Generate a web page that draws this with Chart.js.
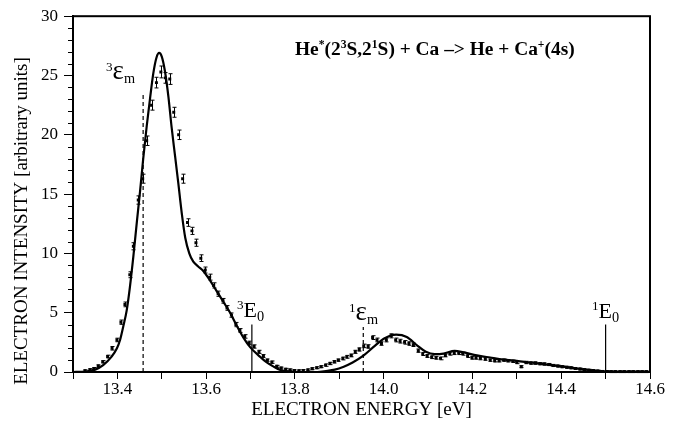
<!DOCTYPE html>
<html>
<head>
<meta charset="utf-8">
<script src="https://cdn.jsdelivr.net/npm/chart.js@4.4.1/dist/chart.umd.min.js"></script>
<style>
  html, body { margin: 0; padding: 0; background: #fff; }
</style>
</head>
<body>
<canvas id="spektrum" width="679" height="429"></canvas>
<script>
// measured points (energy in eV, intensity, error)
const energies = [
  13.327, 13.338, 13.347, 13.357, 13.367, 13.378, 13.388, 13.399, 13.408, 13.417,
  13.428, 13.436, 13.447, 13.457, 13.466, 13.477, 13.488, 13.498, 13.508, 13.518,
  13.527, 13.538, 13.547, 13.558, 13.568, 13.577, 13.588, 13.598, 13.608, 13.617,
  13.627, 13.638, 13.647, 13.657, 13.667, 13.676, 13.687, 13.697, 13.708, 13.719,
  13.729, 13.738, 13.748, 13.759, 13.769, 13.779, 13.789, 13.799, 13.809, 13.819,
  13.829, 13.839, 13.849, 13.859, 13.869, 13.879, 13.889, 13.898, 13.908, 13.917,
  13.927, 13.936, 13.945, 13.955, 13.965, 13.975, 13.985, 13.995, 14.006, 14.017,
  14.027, 14.037, 14.047, 14.057, 14.067, 14.078, 14.088, 14.098, 14.108, 14.118,
  14.128, 14.139, 14.149, 14.159, 14.169, 14.178, 14.189, 14.199, 14.208, 14.218,
  14.229, 14.240, 14.250, 14.260, 14.270, 14.280, 14.291, 14.300, 14.310, 14.321,
  14.331, 14.342, 14.352, 14.362, 14.372, 14.382, 14.392, 14.402, 14.412, 14.422,
  14.432, 14.442, 14.452, 14.462, 14.472, 14.482, 14.492, 14.502, 14.512, 14.522,
  14.532, 14.542, 14.552, 14.562, 14.572, 14.582, 14.592
];
const intensities = [
  0.10, 0.20, 0.30, 0.50, 0.86, 1.30, 2.00, 2.70, 4.20, 5.70,
  8.20, 10.6, 14.5, 16.3, 19.5, 22.5, 24.4, 25.3, 24.8, 24.7,
  21.9, 20.0, 16.3, 12.6, 11.9, 10.9, 9.60, 8.60, 8.00, 7.30,
  6.60, 6.00, 5.40, 4.80, 4.00, 3.50, 3.00, 2.45, 2.15, 1.70,
  1.35, 1.00, 0.83, 0.48, 0.33, 0.23, 0.18, 0.12, 0.10, 0.12,
  0.18, 0.28, 0.36, 0.45, 0.58, 0.72, 0.86, 1.00, 1.14, 1.28,
  1.40, 1.70, 1.90, 2.20, 2.15, 2.90, 2.70, 2.40, 2.70, 3.05,
  2.70, 2.60, 2.50, 2.40, 2.30, 1.80, 1.52, 1.35, 1.25, 1.20,
  1.15, 1.40, 1.55, 1.60, 1.60, 1.55, 1.35, 1.20, 1.20, 1.15,
  1.10, 1.00, 0.95, 0.95, 1.00, 0.95, 0.90, 0.80, 0.45, 0.80,
  0.75, 0.75, 0.70, 0.68, 0.63, 0.55, 0.50, 0.45, 0.40, 0.35,
  0.30, 0.25, 0.20, 0.15, 0.12, 0.08, 0.05, 0.04, 0.03, 0.03,
  0.03, 0.03, 0.03, 0.03, 0.03, 0.03, 0.03
];
const errors = [
  0.08, 0.08, 0.08, 0.10, 0.10, 0.12, 0.15, 0.15, 0.18, 0.20,
  0.25, 0.30, 0.35, 0.38, 0.40, 0.42, 0.45, 0.50, 0.45, 0.45,
  0.42, 0.40, 0.38, 0.32, 0.30, 0.30, 0.28, 0.25, 0.25, 0.22,
  0.22, 0.20, 0.20, 0.18, 0.18, 0.16, 0.15, 0.15, 0.14, 0.13,
  0.12, 0.10, 0.10, 0.08, 0.08, 0.08, 0.08, 0.08, 0.08, 0.08,
  0.08, 0.08, 0.08, 0.08, 0.10, 0.10, 0.10, 0.10, 0.12, 0.12,
  0.12, 0.13, 0.14, 0.15, 0.15, 0.16, 0.16, 0.15, 0.16, 0.17,
  0.16, 0.16, 0.15, 0.15, 0.15, 0.14, 0.13, 0.12, 0.12, 0.12,
  0.12, 0.12, 0.13, 0.13, 0.13, 0.13, 0.12, 0.12, 0.12, 0.12,
  0.11, 0.10, 0.10, 0.10, 0.10, 0.10, 0.10, 0.10, 0.08, 0.10,
  0.10, 0.10, 0.09, 0.09, 0.09, 0.09, 0.08, 0.08, 0.08, 0.08,
  0.08, 0.08, 0.08, 0.08, 0.08, 0.08, 0.08, 0.08, 0.08, 0.08,
  0.08, 0.08, 0.08, 0.08, 0.08, 0.08, 0.08
];

// calculated spectrum (solid curve)
const fitEnergies = [
  13.30, 13.32, 13.335, 13.35, 13.368, 13.387, 13.399, 13.406, 13.413, 13.421,
  13.428, 13.436, 13.444, 13.451, 13.458, 13.466, 13.474, 13.481, 13.488, 13.494,
  13.50, 13.507, 13.515, 13.522, 13.53, 13.537, 13.545, 13.553, 13.562, 13.571,
  13.582, 13.594, 13.609, 13.624, 13.639, 13.654, 13.669, 13.684, 13.699, 13.721,
  13.735, 13.752, 13.767, 13.785, 13.80, 13.83, 13.85, 13.87, 13.89, 13.91,
  13.93, 13.955, 13.98, 14.00, 14.028, 14.052, 14.075, 14.095, 14.115, 14.135,
  14.16, 14.18, 14.21, 14.24, 14.27, 14.30, 14.33, 14.36, 14.405, 14.45,
  14.48, 14.50, 14.55, 14.60
];
const fitValues = [
  0, 0.02, 0.08, 0.2, 0.58, 1.3, 2.0, 2.7, 3.8, 5.2,
  7.1, 9.75, 12.7, 15.2, 17.9, 20.7, 23.2, 25.2, 26.5, 26.9,
  26.6, 25.4, 23.2, 20.7, 18.2, 16.0, 13.4, 11.3, 10.0, 9.3,
  8.9, 8.5, 7.7, 6.8, 5.9, 5.0, 3.9, 2.9, 2.1, 1.3,
  0.85, 0.45, 0.17, 0.05, 0.01, 0, 0, 0.08, 0.2, 0.45,
  0.8, 1.4, 2.2, 2.8, 3.15, 2.95, 2.25, 1.7, 1.5, 1.55,
  1.78, 1.65, 1.4, 1.22, 1.05, 0.94, 0.8, 0.67, 0.45, 0.22,
  0.1, 0.03, 0.01, 0
];

// marker lines: 3εm, 3E0, 1εm, 1E0
const markerEnergies = [13.458, 13.703, 13.954, 14.50];
const markerHeights  = [23.6, 4.0, 3.8, 4.0];
const markerDashed   = [true, false, true, false];

const xMin = 13.3, xMax = 14.6, xStep = 0.1;
const yMin = 0, yMax = 30, yStep = 5;

const SERIF = "'Liberation Serif', 'Times New Roman', serif";
Chart.defaults.font.family = SERIF;
Chart.defaults.color = '#000';

// text with super/subscripts
function richText(ctx, x, y, parts, size, bold) {
  const w = bold ? 'bold ' : '';
  parts.forEach(([txt, kind, big]) => {
    let s = big || size, dy = 0;
    if (kind === 'sup') { s = size * 0.6; dy = -size * 0.38; }
    if (kind === 'sub') { s = size * 0.65; dy = size * 0.18; }
    ctx.font = w + s + 'px ' + SERIF;
    ctx.fillText(txt, x, y + dy);
    x += ctx.measureText(txt).width;
  });
}

const fehlerBalken = {
  id: 'fehlerBalken',
  afterDatasetsDraw(chart) {
    const { ctx, scales: { x, y } } = chart;
    ctx.save();
    ctx.strokeStyle = '#000';
    ctx.lineWidth = 1;
    energies.forEach((e, i) => {
      const px = Math.round(x.getPixelForValue(e)) + 0.5;
      const y1 = y.getPixelForValue(intensities[i] - errors[i]);
      const y2 = y.getPixelForValue(intensities[i] + errors[i]);
      ctx.beginPath();
      ctx.moveTo(px, y1); ctx.lineTo(px, y2);
      ctx.moveTo(px - 2, y1); ctx.lineTo(px + 2, y1);
      ctx.moveTo(px - 2, y2); ctx.lineTo(px + 2, y2);
      ctx.stroke();
    });
    ctx.restore();
  }
};

const rahmen = {
  id: 'rahmen',
  afterDraw(chart) {
    const { ctx, chartArea: a, scales: { y } } = chart;
    ctx.save();
    ctx.strokeStyle = '#000';
    ctx.lineWidth = 2;
    ctx.strokeRect(a.left, a.top, a.right - a.left, a.bottom - a.top);
    // minor y ticks
    ctx.lineWidth = 1;
    for (let v = yMin + 1; v < yMax; v++) {
      if (v % yStep === 0) continue;
      const py = Math.round(y.getPixelForValue(v)) + 0.5;
      ctx.beginPath(); ctx.moveTo(a.left - 5, py); ctx.lineTo(a.left, py); ctx.stroke();
    }
    ctx.fillStyle = '#000';
    // y axis title (sits a bit lower than the plot centre in the original)
    ctx.save();
    ctx.translate(22, 221);
    ctx.rotate(-Math.PI / 2);
    ctx.textAlign = 'center';
    ctx.textBaseline = 'middle';
    ctx.font = '19px ' + SERIF;
    ctx.fillText('ELECTRON INTENSITY [arbitrary units]', 0, 0);
    ctx.restore();
    // labels
    ctx.textAlign = 'left';
    ctx.textBaseline = 'alphabetic';
    richText(ctx, 295, 55, [['He', ''], ['*', 'sup'], ['(2', ''], ['3', 'sup'], ['S,2', ''], ['1', 'sup'],
      ['S) + Ca \u2013> He + Ca', ''], ['+', 'sup'], ['(4s)', '']], 19.4, true);
    richText(ctx, 106, 79, [['3', 'sup'], ['\u03b5', '', 27], ['m', 'sub']], 22, false);
    richText(ctx, 237, 317, [['3', 'sup'], ['E', ''], ['0', 'sub']], 22, false);
    richText(ctx, 349, 320, [['1', 'sup'], ['\u03b5', '', 27], ['m', 'sub']], 22, false);
    richText(ctx, 592, 318, [['1', 'sup'], ['E', ''], ['0', 'sub']], 22, false);
    ctx.restore();
  }
};

const markerSets = markerEnergies.map((e, i) => ({
  data: [{ x: e, y: 0 }, { x: e, y: markerHeights[i] }],
  borderColor: '#000',
  borderWidth: 1.2,
  borderDash: markerDashed[i] ? [4, 3] : [],
  pointRadius: 0,
  showLine: true
}));

new Chart(document.getElementById('spektrum'), {
  type: 'scatter',
  data: {
    datasets: [
      {
        data: fitEnergies.map((e, i) => ({ x: e, y: fitValues[i] })),
        showLine: true,
        borderColor: '#000',
        borderWidth: 2.2,
        pointRadius: 0,
        cubicInterpolationMode: 'monotone'
      },
      {
        data: energies.map((e, i) => ({ x: e, y: intensities[i] })),
        showLine: false,
        pointStyle: 'rect',
        pointRadius: 2.1,
        borderWidth: 0,
        backgroundColor: '#000'
      },
      ...markerSets
    ]
  },
  options: {
    responsive: false,
    animation: false,
    devicePixelRatio: 1,
    layout: { padding: { left: 0, top: 13, right: 29, bottom: 0 } },
    plugins: { legend: { display: false }, tooltip: { enabled: false } },
    scales: {
      x: {
        type: 'linear',
        min: xMin, max: xMax,
        afterFit: s => { s.height = 57; },
        ticks: {
          stepSize: xStep,
          padding: 0,
          font: { size: 17 },
          callback: v => (Math.round(v * 10) % 2 === 0 ? v.toFixed(1) : '')
        },
        grid: { drawOnChartArea: false, tickLength: 7, color: '#000' },
        border: { color: '#000', width: 2 },
        title: { display: true, text: 'ELECTRON ENERGY [eV]', font: { size: 19 }, padding: { top: 0, bottom: 8 } }
      },
      y: {
        min: yMin, max: yMax,
        afterFit: s => { s.width = 73; },
        ticks: { stepSize: yStep, padding: 6, font: { size: 17 } },
        grid: { drawOnChartArea: false, tickLength: 9, color: '#000' },
        border: { color: '#000', width: 2 },
        title: { display: false }
      }
    }
  },
  plugins: [fehlerBalken, rahmen]
});
</script>
</body>
</html>
